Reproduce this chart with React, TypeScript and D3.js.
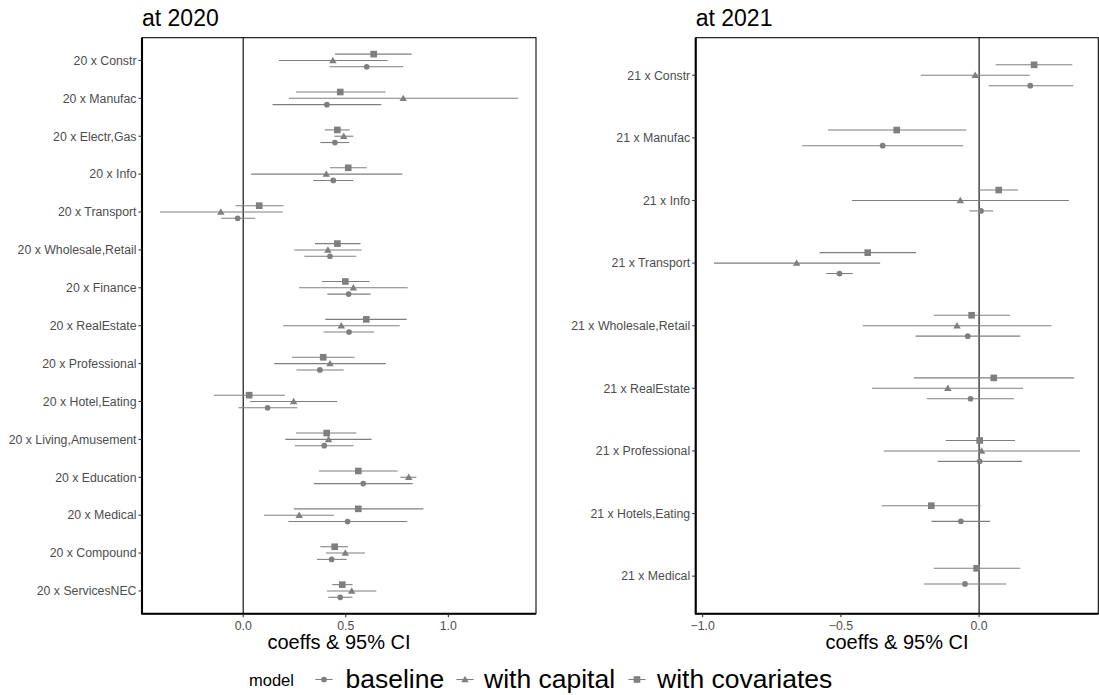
import React from 'react';
import * as d3 from 'd3';

// ---------- data: panel "at 2020" ----------
const cats2020 = [
  '20 x Constr', '20 x Manufac', '20 x Electr,Gas', '20 x Info', '20 x Transport',
  '20 x Wholesale,Retail', '20 x Finance', '20 x RealEstate', '20 x Professional',
  '20 x Hotel,Eating', '20 x Living,Amusement', '20 x Education', '20 x Medical',
  '20 x Compound', '20 x ServicesNEC',
];
const base2020 = [0.602, 0.408, 0.447, 0.439, -0.027, 0.423, 0.514, 0.516, 0.374, 0.119, 0.395, 0.585, 0.509, 0.431, 0.473];
const baseLo2020 = [0.421, 0.143, 0.376, 0.341, -0.107, 0.298, 0.410, 0.392, 0.259, -0.023, 0.252, 0.345, 0.220, 0.360, 0.415];
const baseHi2020 = [0.780, 0.673, 0.517, 0.537, 0.059, 0.551, 0.621, 0.639, 0.490, 0.264, 0.538, 0.826, 0.800, 0.504, 0.532];
const cap2020 = [0.437, 0.780, 0.490, 0.405, -0.109, 0.413, 0.537, 0.478, 0.423, 0.246, 0.416, 0.807, 0.273, 0.498, 0.529];
const capLo2020 = [0.174, 0.223, 0.444, 0.038, -0.406, 0.249, 0.272, 0.195, 0.151, 0.034, 0.205, 0.766, 0.102, 0.403, 0.408];
const capHi2020 = [0.704, 1.340, 0.537, 0.776, 0.192, 0.577, 0.802, 0.763, 0.695, 0.459, 0.626, 0.844, 0.442, 0.594, 0.649];
const cov2020 = [0.636, 0.473, 0.459, 0.512, 0.078, 0.459, 0.498, 0.600, 0.390, 0.029, 0.407, 0.561, 0.561, 0.446, 0.483];
const covLo2020 = [0.447, 0.257, 0.397, 0.423, -0.037, 0.350, 0.384, 0.400, 0.238, -0.143, 0.257, 0.369, 0.247, 0.376, 0.434];
const covHi2020 = [0.821, 0.694, 0.519, 0.602, 0.197, 0.572, 0.616, 0.797, 0.543, 0.203, 0.551, 0.753, 0.878, 0.511, 0.533];
const ticks2020 = [0, 0.5, 1.0];

// ---------- data: panel "at 2021" ----------
const cats2021 = [
  '21 x Constr', '21 x Manufac', '21 x Info', '21 x Transport', '21 x Wholesale,Retail',
  '21 x RealEstate', '21 x Professional', '21 x Hotels,Eating', '21 x Medical',
];
const base2021 = [0.185, -0.349, 0.007, -0.505, -0.041, -0.031, 0.002, -0.066, -0.051];
const baseLo2021 = [0.034, -0.640, -0.035, -0.553, -0.230, -0.189, -0.150, -0.172, -0.199];
const baseHi2021 = [0.341, -0.057, 0.051, -0.457, 0.149, 0.126, 0.155, 0.040, 0.098];
const cap2021 = [-0.014, null, -0.068, -0.660, -0.080, -0.113, 0.009, null, null];
const capLo2021 = [-0.211, null, -0.460, -0.959, -0.421, -0.387, -0.345, null, null];
const capHi2021 = [0.183, null, 0.325, -0.358, 0.262, 0.159, 0.365, null, null];
const cov2021 = [0.199, -0.298, 0.071, -0.403, -0.027, 0.053, 0.002, -0.173, -0.009];
const covLo2021 = [0.060, -0.547, 0.000, -0.577, -0.164, -0.236, -0.121, -0.352, -0.164];
const covHi2021 = [0.337, -0.046, 0.141, -0.228, 0.112, 0.344, 0.130, 0.006, 0.149];
const ticks2021 = [-1.0, -0.5, 0];

const models = ['baseline', 'with capital', 'with covariates'];
const shapes = ['circle', 'triangle', 'square'];

const GRAY = '#7f7f7f';
const FONT = '"Liberation Sans", Arial, Helvetica, sans-serif';
const LW = 1.07;

type Series = { est: (number | null)[]; lo: (number | null)[]; hi: (number | null)[]; shape: string };

const triPath = d3.symbol().type(d3.symbolTriangle).size(24)() as string;
const sqPath = d3.symbol().type(d3.symbolSquare).size(44)() as string;

function Glyph({ shape, x, y }: { shape: string; x: number; y: number }) {
  if (shape === 'circle') return <circle cx={x} cy={y} r={2.85} fill={GRAY} />;
  if (shape === 'triangle') return <path d={triPath} transform={`translate(${x},${y + 0.6})`} fill={GRAY} />;
  return <path d={sqPath} transform={`translate(${x},${y})`} fill={GRAY} />;
}

const fmt = d3.format('.1f');

function Panel({ title, cats, series, ticks, left, right, top, bottom }: {
  title: string; cats: string[]; series: Series[]; ticks: number[];
  left: number; right: number; top: number; bottom: number;
}) {
  const all = series.flatMap(s => [...s.lo, ...s.hi]).filter(v => v != null) as number[];
  const mn = d3.min(all)!; const mx = d3.max(all)!;
  const pad = (mx - mn) * 0.05;
  const x = d3.scaleLinear().domain([mn - pad, mx + pad]).range([left, right]);
  const y = d3.scalePoint<string>().domain(cats).range([top, bottom]).padding(0.6);
  const step = y.step();
  const marks: JSX.Element[] = [];
  cats.forEach((c, i) => {
    const present = series.map((s, k) => ({ s, k })).filter(o => o.s.est[i] != null);
    const n = present.length;
    present.forEach((o, j) => {
      const off = (j - (n - 1) / 2) * (0.5 / n);
      const yy = (y(c) as number) - off * step;
      marks.push(
        <g key={`${i}-${o.k}`}>
          <line x1={x(o.s.lo[i] as number)} x2={x(o.s.hi[i] as number)} y1={yy} y2={yy} stroke={GRAY} strokeWidth={LW} />
          <Glyph shape={o.s.shape} x={x(o.s.est[i] as number)} y={yy} />
        </g>
      );
    });
  });
  return (
    <g>
      <text x={left} y={26} fontSize={23} fill="#000" fontFamily={FONT}>{title}</text>
      <rect x={left} y={top} width={right - left} height={bottom - top} fill="white" stroke="#000" strokeWidth={LW} />
      <line x1={x(0)} x2={x(0)} y1={top} y2={bottom} stroke="#000" strokeWidth={1.1} />
      {marks}
      <line x1={left} x2={left} y1={top} y2={bottom + 0.5} stroke="#000" strokeWidth={2.1} />
      <line x1={left - 0.5} x2={right} y1={bottom} y2={bottom} stroke="#000" strokeWidth={2.1} />
      {cats.map(c => (
        <g key={c}>
          <line x1={left - 3.5} x2={left} y1={y(c)} y2={y(c)} stroke="#333" strokeWidth={LW} />
          <text x={left - 5.5} y={(y(c) as number) + 4.3} textAnchor="end" fontSize={12.3} fill="#4d4d4d" fontFamily={FONT}>{c}</text>
        </g>
      ))}
      {ticks.map(t => (
        <g key={t}>
          <line x1={x(t)} x2={x(t)} y1={bottom} y2={bottom + 3.5} stroke="#333" strokeWidth={LW} />
          <text x={x(t)} y={bottom + 16} textAnchor="middle" fontSize={12.3} fill="#4d4d4d" fontFamily={FONT}>{fmt(t)}</text>
        </g>
      ))}
      <text x={(left + right) / 2} y={649} textAnchor="middle" fontSize={20} fill="#000" fontFamily={FONT}>coeffs &amp; 95% CI</text>
    </g>
  );
}

const legendKeyX = [324, 465, 637];
const legendLabelX = [345.5, 484, 657];

export default function App() {
  const s2020: Series[] = [
    { est: base2020, lo: baseLo2020, hi: baseHi2020, shape: shapes[0] },
    { est: cap2020, lo: capLo2020, hi: capHi2020, shape: shapes[1] },
    { est: cov2020, lo: covLo2020, hi: covHi2020, shape: shapes[2] },
  ];
  const s2021: Series[] = [
    { est: base2021, lo: baseLo2021, hi: baseHi2021, shape: shapes[0] },
    { est: cap2021, lo: capLo2021, hi: capHi2021, shape: shapes[1] },
    { est: cov2021, lo: covLo2021, hi: covHi2021, shape: shapes[2] },
  ];
  return (
    <svg width={1099} height={695} style={{ position: 'absolute', left: 0, top: 0, background: 'white' }}>
      <rect x={0} y={0} width={1099} height={695} fill="white" />
      <Panel title="at 2020" cats={cats2020} series={s2020} ticks={ticks2020} left={142} right={536} top={37.7} bottom={613.7} />
      <Panel title="at 2021" cats={cats2021} series={s2021} ticks={ticks2021} left={695.7} right={1098.3} top={37.7} bottom={613.7} />
      <g>
        <text x={249} y={686} fontSize={16.5} fill="#000" fontFamily={FONT}>model</text>
        {models.map((m, i) => (
          <g key={m}>
            <line x1={legendKeyX[i] - 8.6} x2={legendKeyX[i] + 8.6} y1={679.5} y2={679.5} stroke={GRAY} strokeWidth={LW} />
            <Glyph shape={shapes[i]} x={legendKeyX[i]} y={679.5} />
            <text x={legendLabelX[i]} y={688} fontSize={26.5} fill="#000" fontFamily={FONT}>{m}</text>
          </g>
        ))}
      </g>
    </svg>
  );
}
